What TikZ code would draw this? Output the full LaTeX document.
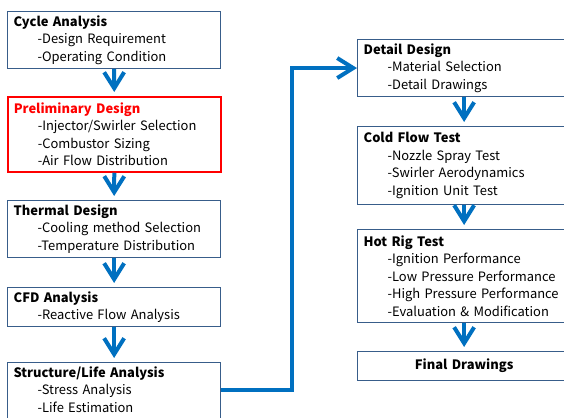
\documentclass[tikz,border=0pt]{standalone}
\usepackage{fontspec}
\setmainfont{Noto Sans CJK KR}
\usetikzlibrary{arrows.meta}

\definecolor{flowblue}{RGB}{0,112,192}
\definecolor{boxblue}{RGB}{56,93,138}
\newcommand{\ind}{\hspace*{0.6cm}}

\begin{document}
\begin{tikzpicture}
     % Define styles
     \tikzstyle{stage} = [draw=boxblue, line width=0.9pt, anchor=north west, text width=5.025cm, inner xsep=0.15cm, inner ysep=0.1cm, align=left, font=\fontsize{9.2}{12.4}\selectfont]
     \tikzstyle{flow} = [flowblue, line width=0.1cm, shorten >=0.1cm, -{Straight Barb[length=0.4cm,width=0.5cm]}]

     % Frame of the page
     \useasboundingbox (0,0) rectangle (14.1,10.45);
     \clip (0,0) rectangle (14.1,10.45);

     % Left column
     \node[stage] (cycle) at (0.175,10.175) {\textbf{Cycle Analysis}\\\ind-Design Requirement\\\ind-Operating Condition};
     \node[stage, draw=red, line width=1.1pt, inner ysep=0.15cm] (prelim) at (0.175,8.05) {\textbf{\textcolor{red}{Preliminary Design}}\\\ind-Injector/Swirler Selection\\\ind-Combustor Sizing\\\ind-Air Flow Distribution};
     \node[stage] (thermal) at (0.175,5.45) {\textbf{Thermal Design}\\\ind-Cooling method Selection\\\ind-Temperature Distribution};
     \node[stage] (cfd) at (0.175,3.275) {\textbf{CFD Analysis}\\\ind-Reactive Flow Analysis};
     \node[stage, text depth=1.4cm] (struct) at (0.175,1.4) {\textbf{Structure/Life Analysis}\\\ind-Stress Analysis\\\ind-Life Estimation};

     % Right column
     \node[stage] (detail) at (8.925,9.475) {\textbf{Detail Design}\\\ind-Material Selection\\\ind-Detail Drawings};
     \node[stage, inner ysep=0.15cm] (cold) at (8.925,7.3) {\textbf{Cold Flow Test}\\\ind-Nozzle Spray Test\\\ind-Swirler Aerodynamics\\\ind-Ignition Unit Test};
     \node[stage, inner ysep=0.15cm] (hot) at (8.925,4.725) {\textbf{Hot Rig Test}\\\ind-Ignition Performance\\\ind-Low Pressure Performance\\\ind-High Pressure Performance\\\ind-Evaluation \& Modification};
     \node[stage, align=center, minimum height=0.725cm] (final) at (8.925,1.675) {\textbf{Final Drawings}};

     % Down arrows
     \draw[flow] (cycle.south) -- (prelim.north);
     \draw[flow] (prelim.south) -- (thermal.north);
     \draw[flow] (thermal.south) -- (cfd.north);
     \draw[flow] (cfd.south) -- (struct.north);
     \draw[flow] (detail.south) -- (cold.north);
     \draw[flow] (cold.south) -- (hot.north);
     \draw[flow] (hot.south) -- (final.north);

     % Link to the right column
     \coordinate (bend) at (7.3,0.7);
     \draw[flow, shorten >=0pt, line join=miter] (struct.east |- bend) -- (bend) |- (detail.west);

\end{tikzpicture}
\end{document}
